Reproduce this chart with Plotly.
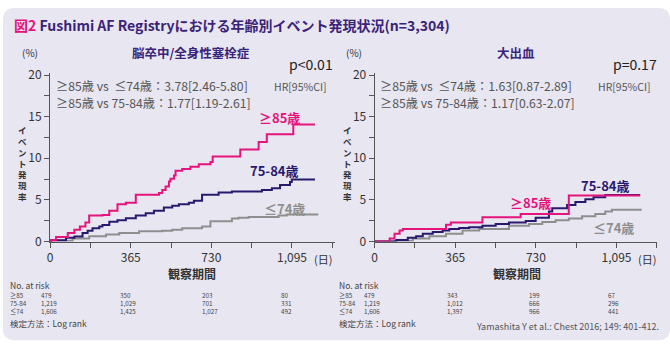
import plotly.graph_objects as go

# ---------------- data ----------------
# Left: 脳卒中/全身性塞栓症 (days, cumulative %)
L85_days = [0, 5, 27, 80, 110, 135, 160, 177, 237, 268, 305, 343, 388, 493, 508, 523, 538, 545, 561, 568, 598, 635, 673, 726, 736, 861, 944, 981, 1101, 1199]
L85_pct  = [0, 0.15, 0.54, 1.03, 1.42, 1.8, 2.3, 3.14, 3.2, 3.7, 4.48, 4.67, 5.63, 5.82, 6.2, 6.6, 7.2, 7.55, 7.93, 8.5, 8.7, 8.97, 9.27, 9.54, 10.2, 11.07, 11.95, 12.9, 14.06, 14.06]
L75_days = [0, 5, 72, 110, 147, 170, 192, 223, 237, 268, 305, 343, 388, 433, 470, 515, 553, 583, 628, 651, 688, 763, 823, 959, 1004, 1041, 1086, 1094, 1199]
L75_pct  = [0, 0.15, 0.46, 0.6, 1.03, 1.3, 1.6, 1.8, 2.0, 2.38, 2.57, 2.8, 3.14, 3.4, 3.7, 4.1, 4.3, 4.48, 4.67, 4.9, 5.63, 5.9, 6.0, 6.2, 6.4, 6.8, 7.16, 7.45, 7.45]
L74_days = [0, 5, 102, 177, 253, 313, 403, 508, 553, 598, 688, 726, 823, 853, 899, 1034, 1071, 1214]
L74_pct  = [0, 0.1, 0.38, 0.65, 0.84, 1.03, 1.23, 1.3, 1.42, 1.6, 1.8, 2.45, 2.76, 2.85, 2.95, 3.14, 3.25, 3.25]

# Right: 大出血
R85_days = [0, 68, 90, 113, 128, 323, 345, 488, 661, 879, 1202]
R85_pct  = [0, 0.38, 0.95, 1.33, 1.52, 2.02, 2.29, 2.93, 3.3, 5.52, 5.52]
R75_days = [0, 98, 150, 188, 218, 263, 308, 338, 383, 428, 488, 548, 608, 684, 729, 789, 804, 871, 909, 954, 991, 1044, 1202]
R75_pct  = [0, 0.19, 0.46, 0.65, 0.95, 1.14, 1.33, 1.52, 1.64, 1.71, 1.9, 2.1, 2.29, 2.48, 2.86, 3.62, 4.0, 4.38, 4.76, 5.07, 5.33, 5.6, 5.6]
R74_days = [0, 90, 173, 248, 323, 398, 473, 608, 699, 759, 819, 879, 939, 999, 1044, 1074, 1209]
R74_pct  = [0, 0.11, 0.38, 0.65, 0.95, 1.33, 1.52, 1.9, 2.1, 2.36, 2.55, 2.78, 3.05, 3.31, 3.62, 3.81, 3.81]

x_tickvals = [0, 182.5, 365, 547.5, 730, 912.5, 1095, 1277.5]
x_ticktext = ["0", "", "365", "", "730", "", "1,095", ""]
y_tickvals = [0, 2.5, 5, 7.5, 10, 12.5, 15, 17.5, 20]
y_ticktext = ["0", "", "5", "", "10", "", "15", "", "20"]

risk_groups = ["≥85", "75-84", "≤74"]
risk_left = [["479", "350", "203", "80"], ["1,219", "1,029", "701", "331"], ["1,606", "1,425", "1,027", "492"]]
risk_right = [["479", "343", "199", "67"], ["1,219", "1,012", "666", "296"], ["1,606", "1,397", "966", "441"]]

# ---------------- style ----------------
W, H = 670, 351
C85 = "#E4147C"
C75 = "#28186E"
C74 = "#8E8E8E"
PURPLE = "#3A2378"
BG = "#E8E6F1"
JP = "Noto Sans CJK JP"

def px(x):
    return x / W

def py(y):
    return 1 - y / H

fig = go.Figure()

def add_series(days, pct, color, xa, ya):
    fig.add_trace(go.Scatter(x=days, y=pct, mode="lines", line=dict(color=color, width=2, shape="hv"),
                             xaxis=xa, yaxis=ya, showlegend=False, hoverinfo="skip"))

add_series(L74_days, L74_pct, C74, "x", "y")
add_series(L75_days, L75_pct, C75, "x", "y")
add_series(L85_days, L85_pct, C85, "x", "y")
add_series(R74_days, R74_pct, C74, "x2", "y2")
add_series(R75_days, R75_pct, C75, "x2", "y2")
add_series(R85_days, R85_pct, C85, "x2", "y2")

ydom = [py(244), py(68)]
yrange = [0, 176 / 8.7]
axis_common = dict(showgrid=False, zeroline=False, showline=True, linecolor="#555", linewidth=1,
                   ticks="outside", ticklen=5, tickcolor="#555", tickwidth=1,
                   tickfont=dict(family=JP, size=12, color="#333"), fixedrange=True)

fig.update_layout(
    width=W, height=H, margin=dict(l=0, r=0, t=0, b=0),
    paper_bgcolor="white", plot_bgcolor="white",
    xaxis=dict(domain=[px(47.3), px(333)], range=[0, (333 - 47.3) / 0.2219],
               tickvals=x_tickvals, ticktext=x_ticktext, anchor="y", **axis_common),
    yaxis=dict(domain=ydom, range=yrange, tickvals=y_tickvals, ticktext=y_ticktext, anchor="x", **axis_common),
    xaxis2=dict(domain=[px(373.3), px(657)], range=[0, (657 - 373.3) / 0.2219],
                tickvals=x_tickvals, ticktext=x_ticktext, anchor="y2", **axis_common),
    yaxis2=dict(domain=ydom, range=yrange, tickvals=y_tickvals, ticktext=y_ticktext, anchor="x2", **axis_common),
)

# rounded card background
r = 12
x0, y0, x1, y1 = 0, 0, W, 347
path = (f"M {px(x0 + r)},{py(y0)} L {px(x1 - r)},{py(y0)} Q {px(x1)},{py(y0)} {px(x1)},{py(y0 + r)} "
        f"L {px(x1)},{py(y1 - r)} Q {px(x1)},{py(y1)} {px(x1 - r)},{py(y1)} "
        f"L {px(x0 + r)},{py(y1)} Q {px(x0)},{py(y1)} {px(x0)},{py(y1 - r)} "
        f"L {px(x0)},{py(y0 + r)} Q {px(x0)},{py(y0)} {px(x0 + r)},{py(y0)} Z")
fig.add_shape(type="path", path=path, xref="paper", yref="paper", fillcolor=BG, line=dict(width=0), layer="below")

def ann(text, x, y, size=12, color="#333", xanchor="left", bold=False, family=JP, align="left"):
    if bold:
        text = f"<b>{text}</b>"
    fig.add_annotation(text=text, x=px(x), y=py(y), xref="paper", yref="paper", xanchor=xanchor,
                       yanchor="middle", showarrow=False, align=align, borderpad=0,
                       font=dict(family=family, size=size, color=color))

# title
ann(f"<span style='color:{C85}'>図2</span> Fushimi AF Registryにおける年齢別イベント発現状況(n=3,304)",
    10, 18, size=14, color=PURPLE, bold=True)

for off, sub, subx, pval, hr1, hr2 in [
    (0, "脳卒中/全身性塞栓症", 189, "p<0.01", "≥85歳 vs  ≤74歳：3.78[2.46-5.80]", "≥85歳 vs 75-84歳：1.77[1.19-2.61]"),
    (326, "大出血", 515, "p=0.17", "≥85歳 vs  ≤74歳：1.63[0.87-2.89]", "≥85歳 vs 75-84歳：1.17[0.63-2.07]"),
]:
    ann(sub, subx, 47, size=12.5, color=PURPLE, xanchor="center", bold=True)
    ann("(%)", 27 + off, 47, size=10, color="#333", xanchor="center")
    ann(pval, 309 + off, 58, size=14, color="#222", xanchor="center")
    ann(hr1, 52 + off, 81.5, size=12.2, color="#555")
    ann(hr2, 52 + off, 99, size=12.2, color="#555")
    ann("HR[95%CI]", 326 + off, 82, size=10.5, color="#555", xanchor="right")
    ann("イ<br>ベ<br>ン<br>ト<br>発<br>現<br>率", 20 + off, 162, size=8.5, color="#333", xanchor="center", bold=True)
    ann("(日)", 321 + off, 262, size=11, color="#333", xanchor="center")
    ann("観察期間", 190 + off, 277, size=12, color="#333", xanchor="center", bold=True)

# curve labels
ann("≥85歳", 278, 114, size=13, color=C85, xanchor="center", bold=True)
ann("75-84歳", 273, 170, size=13, color=C75, xanchor="center", bold=True)
ann("≤74歳", 283, 209, size=13, color=C74, xanchor="center", bold=True)
ann("75-84歳", 605, 185, size=13, color=C75, xanchor="center", bold=True)
ann("≥85歳", 530, 203, size=13, color=C85, xanchor="center", bold=True)
ann("≤74歳", 613, 229, size=13, color=C74, xanchor="center", bold=True)

# risk tables: one multi-line text per column
for label_x, cols, data in [(6, [37, 117, 199, 278], risk_left), (337, [362, 445, 527, 607], risk_right)]:
    ann("No. at risk", label_x, 289, size=8.5, color="#444")
    ann("<br>".join(risk_groups), label_x, 309, size=6.3, color="#444")
    for j, cx in enumerate(cols):
        ann("<br>".join(data[i][j] for i in range(3)), cx, 309, size=6.3, color="#444")
    ann("検定方法：Log rank", label_x, 329, size=8.5, color="#444")

ann("Yamashita Y et al.: Chest 2016; 149: 401-412.", 660, 333, size=9, color="#555", xanchor="right")

fig.write_html("out.html")
